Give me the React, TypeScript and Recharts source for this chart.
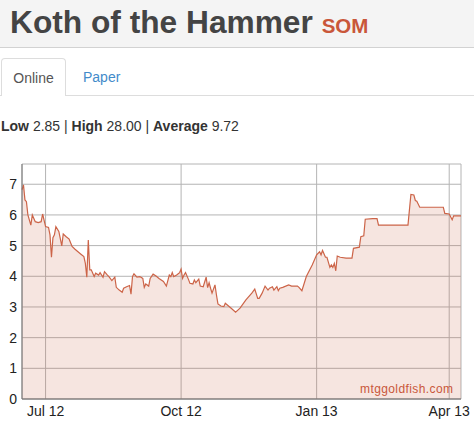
import React from 'react';
import { AreaChart, Area, XAxis, YAxis, CartesianGrid } from 'recharts';

const FONT = '"Liberation Sans", Arial, sans-serif';

// price history, sampled off the chart
const dates = [
    '2012-06-15', '2012-06-16', '2012-06-17', '2012-06-18', '2012-06-19', '2012-06-21', '2012-06-22', '2012-06-24',
    '2012-06-26', '2012-06-28', '2012-06-29', '2012-07-01', '2012-07-03', '2012-07-04', '2012-07-05', '2012-07-06',
    '2012-07-07', '2012-07-08', '2012-07-10', '2012-07-12', '2012-07-13', '2012-07-15', '2012-07-17', '2012-07-19',
    '2012-07-21', '2012-07-23', '2012-07-25', '2012-07-27', '2012-07-28', '2012-07-29', '2012-07-30', '2012-07-31',
    '2012-08-01', '2012-08-03', '2012-08-04', '2012-08-06', '2012-08-07', '2012-08-09', '2012-08-10', '2012-08-12',
    '2012-08-13', '2012-08-15', '2012-08-17', '2012-08-18', '2012-08-20', '2012-08-22', '2012-08-23', '2012-08-25',
    '2012-08-27', '2012-08-28', '2012-08-29', '2012-08-30', '2012-09-01', '2012-09-03', '2012-09-05', '2012-09-06',
    '2012-09-07', '2012-09-09', '2012-09-10', '2012-09-12', '2012-09-14', '2012-09-16', '2012-09-19', '2012-09-21',
    '2012-09-23', '2012-09-24', '2012-09-25', '2012-09-26', '2012-09-28', '2012-09-30', '2012-10-01', '2012-10-02',
    '2012-10-03', '2012-10-04', '2012-10-06', '2012-10-07', '2012-10-09', '2012-10-10', '2012-10-11', '2012-10-13',
    '2012-10-14', '2012-10-16', '2012-10-18', '2012-10-19', '2012-10-20', '2012-10-21', '2012-10-22', '2012-10-24',
    '2012-10-25', '2012-10-26', '2012-10-28', '2012-10-30', '2012-10-31', '2012-11-02', '2012-11-04', '2012-11-07',
    '2012-11-10', '2012-11-14', '2012-11-18', '2012-11-20', '2012-11-22', '2012-11-23', '2012-11-25', '2012-11-27',
    '2012-11-29', '2012-11-30', '2012-12-02', '2012-12-03', '2012-12-05', '2012-12-06', '2012-12-07', '2012-12-09',
    '2012-12-13', '2012-12-15', '2012-12-19', '2012-12-20', '2012-12-22', '2012-12-25', '2012-12-29', '2013-01-01',
    '2013-01-03', '2013-01-04', '2013-01-05', '2013-01-07', '2013-01-08', '2013-01-10', '2013-01-11', '2013-01-12',
    '2013-01-13', '2013-01-14', '2013-01-15', '2013-01-17', '2013-01-21', '2013-01-25', '2013-01-26', '2013-01-30',
    '2013-01-31', '2013-02-02', '2013-02-03', '2013-02-08', '2013-02-11', '2013-02-12', '2013-02-22', '2013-03-04',
    '2013-03-06', '2013-03-08', '2013-03-09', '2013-03-10', '2013-03-12', '2013-03-22', '2013-03-28', '2013-03-29',
    '2013-04-01', '2013-04-03', '2013-04-04', '2013-04-09',
];

const prices = [
    6.82, 6.98, 6.49, 6.43, 6.0, 5.67, 6.0, 5.78,
    5.75, 5.78, 6.03, 5.62, 5.59, 5.35, 4.62, 5.26,
    5.35, 5.62, 5.46, 4.99, 5.38, 5.29, 5.21, 4.97,
    4.88, 4.8, 4.72, 4.64, 4.42, 3.97, 5.18, 4.21,
    4.21, 3.99, 4.1, 4.04, 4.12, 3.97, 4.15, 4.04,
    3.99, 3.86, 3.97, 3.64, 3.55, 3.48, 3.61, 3.66,
    3.7, 3.42, 3.99, 4.08, 3.97, 3.99, 3.93, 3.64,
    3.75, 3.68, 3.93, 4.07, 4.01, 3.93, 3.83, 3.68,
    4.04, 3.99, 4.12, 3.99, 4.04, 4.12, 4.23, 3.93,
    4.04, 4.12, 3.9, 3.77, 3.75, 3.88, 3.79, 3.91,
    3.68, 3.66, 3.97, 3.63, 3.79, 3.61, 3.45, 3.72,
    3.39, 3.1, 3.03, 3.01, 3.12, 3.04, 2.96, 2.83,
    2.96, 3.23, 3.45, 3.58, 3.28, 3.28, 3.45, 3.68,
    3.55, 3.61, 3.66, 3.55, 3.66, 3.53, 3.61, 3.64,
    3.72, 3.68, 3.68, 3.64, 3.53, 3.99, 4.37, 4.7,
    4.8, 4.7, 4.84, 4.62, 4.62, 4.29, 4.37, 4.29,
    4.42, 4.18, 4.66, 4.62, 4.59, 4.59, 4.91, 4.95,
    5.29, 5.32, 5.86, 5.88, 5.88, 5.67, 5.67, 5.67,
    6.67, 6.65, 6.47, 6.45, 6.25, 6.25, 6.25, 6.05,
    6.03, 5.84, 5.97, 5.97,
];

const tickDates = ['2012-07-01', '2012-10-01', '2013-01-01', '2013-04-01'];
const tickLabels = ['Jul 12', 'Oct 12', 'Jan 13', 'Apr 13'];
const yTicks = [0, 1, 2, 3, 4, 5, 6, 7];

const DAY = 86400000;
const EPOCH = Date.parse('2012-07-01');
const dayOf = (d: string) => Math.round((Date.parse(d) - EPOCH) / DAY);

const data = dates.map((d, i) => ({ t: dayOf(d), price: prices[i] }));
const xTicks = tickDates.map(dayOf);

const LINE = '#cc6448';

const App: React.FC = () => {
    return (
        <div style={{ position: 'relative', width: 474, height: 422, fontFamily: FONT, color: '#333', background: '#fff' }}>
            <style>{'body{margin:0}'}</style>

            {/* title bar */}
            <div
                style={{
                    position: 'absolute',
                    left: 0,
                    top: 0,
                    width: 474,
                    height: 47,
                    background: '#f4f4f4',
                    borderBottom: '1px solid #d2d2d2',
                }}
            >
                <div
                    style={{
                        position: 'absolute',
                        left: 10,
                        top: 0,
                        lineHeight: '45px',
                        fontSize: 31.7,
                        fontWeight: 'bold',
                        color: '#444',
                        whiteSpace: 'nowrap',
                    }}
                >
                    Koth of the Hammer <span style={{ fontSize: 20.5, color: '#c9573a' }}>SOM</span>
                </div>
            </div>

            {/* tabs */}
            <div style={{ position: 'absolute', left: 0, top: 95, width: 474, borderTop: '1px solid #ddd' }} />
            <div
                style={{
                    position: 'absolute',
                    left: 1,
                    top: 58,
                    width: 65,
                    height: 38,
                    border: '1px solid #ddd',
                    borderBottom: 'none',
                    borderRadius: '4px 4px 0 0',
                    background: '#fff',
                    boxSizing: 'border-box',
                    fontSize: 14,
                    lineHeight: '38px',
                    textAlign: 'center',
                    color: '#555',
                }}
            >
                Online
            </div>
            <div style={{ position: 'absolute', left: 83, top: 58, fontSize: 14, lineHeight: '38px', color: '#428bca' }}>
                Paper
            </div>

            {/* stats */}
            <div style={{ position: 'absolute', left: 1, top: 118, fontSize: 14, lineHeight: '17px', color: '#333', whiteSpace: 'nowrap' }}>
                <b>Low</b> 2.85 | <b>High</b> 28.00 | <b>Average</b> 9.72
            </div>

            {/* chart */}
            <div style={{ position: 'absolute', left: 0, top: 150 }}>
                <AreaChart width={474} height={272} data={data} margin={{ top: 14, right: 13, bottom: 0, left: 0 }}>
                    <CartesianGrid stroke="#b4b4b4" strokeWidth={1} />
                    <XAxis
                        dataKey="t"
                        type="number"
                        domain={['dataMin', 'dataMax']}
                        ticks={xTicks}
                        interval={0}
                        tickFormatter={(v: number) => tickLabels[xTicks.indexOf(v)] ?? ''}
                        tickLine={false}
                        tickSize={0}
                        tickMargin={7}
                        height={23}
                        axisLine={{ stroke: '#666' }}
                        tick={{ fill: '#222', fontSize: 14, fontFamily: FONT }}
                    />
                    <YAxis
                        type="number"
                        domain={[0, 7.66]}
                        ticks={yTicks}
                        interval={0}
                        width={22}
                        tickLine={false}
                        tickSize={0}
                        tickMargin={5}
                        axisLine={{ stroke: '#777' }}
                        tick={{ fill: '#222', fontSize: 14, fontFamily: FONT }}
                    />
                    <Area
                        type="linear"
                        dataKey="price"
                        stroke={LINE}
                        strokeWidth={1.2}
                        fill={LINE}
                        fillOpacity={0.17}
                        dot={false}
                        activeDot={false}
                        isAnimationActive={false}
                    />
                </AreaChart>
            </div>

            {/* watermark */}
            <div
                style={{
                    position: 'absolute',
                    left: 360,
                    top: 382,
                    fontSize: 12,
                    lineHeight: '14px',
                    letterSpacing: 0.4,
                    color: '#c9573a',
                }}
            >
                mtggoldfish.com
            </div>
        </div>
    );
};

export default App;
